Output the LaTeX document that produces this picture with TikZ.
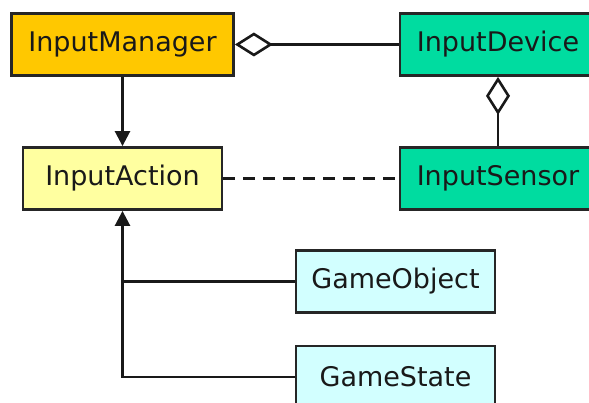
\documentclass[tikz,border=0pt]{standalone}
\usepackage{fontspec}
\setmainfont{DejaVu Sans}
\usetikzlibrary{arrows.meta}
\definecolor{mgrorange}{RGB}{255,200,0}
\definecolor{actyellow}{RGB}{255,255,160}
\definecolor{devteal}{RGB}{0,220,160}
\definecolor{objcyan}{RGB}{210,255,255}
\tikzset{
  cls/.style={draw=black!85, line width=2.8pt, minimum height=62pt, inner sep=0pt,
              font=\fontsize{27}{32}\selectfont, text=black!90},
  link/.style={line width=2.6pt, draw=black!90},
  aggr/.style={{Diamond[open, fill=white, length=38pt, width=24pt]}-},
  navi/.style={-{Triangle[length=15pt, width=15pt]}},
}
\begin{document}
\begin{tikzpicture}[x=1pt, y=-1pt]
  \useasboundingbox (0,0) rectangle (589,403);
  \clip (0,0) rectangle (589,403);
  \fill[white] (0,0) rectangle (589,403);

  % classes
  \node[cls, fill=mgrorange, minimum width=222pt] (im) at (122.5,44.5) {InputManager};
  \node[cls, fill=devteal, minimum width=196pt] (dev) at (498,44.5) {InputDevice};
  \node[cls, fill=actyellow, minimum width=199pt] (act) at (122.5,178.5) {InputAction};
  \node[cls, fill=devteal, minimum width=196pt] (sen) at (498,178.5) {InputSensor};
  \node[cls, fill=objcyan, minimum width=199pt] (gob) at (395.5,281.5) {GameObject};
  \node[cls, fill=objcyan, minimum width=199pt] (gst) at (395.5,377) {GameState};

  % aggregations
  \draw[link, aggr] (im.east) -- (dev.west);
  \draw[link, aggr] (dev.south) -- (sen.north);

  % navigation
  \draw[link, navi] (im.south) -- (act.north);

  % dependency
  \draw[link, dash pattern=on 12pt off 8pt] (act.east) -- (sen.west);

  % generalisation
  \draw[link, navi] (gst.west) -| (act.south);
  \draw[link] (gob.west) -- (gob.west -| act.south);
\end{tikzpicture}
\end{document}
